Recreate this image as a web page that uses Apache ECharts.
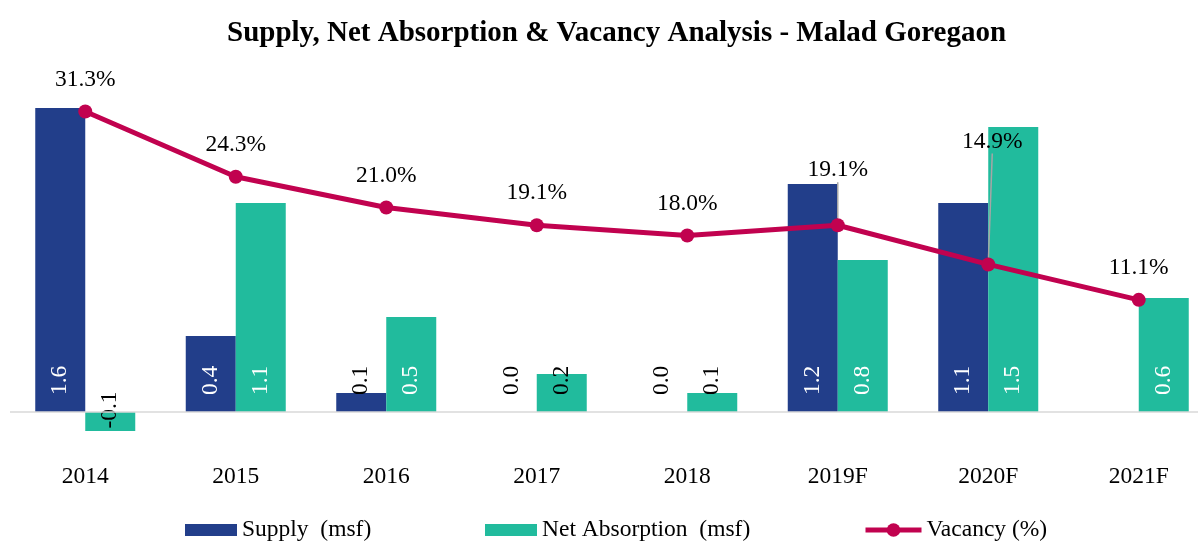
<!DOCTYPE html>
<html>
<head>
<meta charset="utf-8">
<script src="https://cdn.jsdelivr.net/npm/echarts@6/dist/echarts.min.js"></script>
<style>
  html, body { margin: 0; padding: 0; background: #ffffff; }
  #chart { width: 1198px; height: 542px; }
</style>
</head>
<body>
<div id="chart"></div>
<script>
// Yearly figures for the Malad Goregaon micro-market
const categories = ['2014', '2015', '2016', '2017', '2018', '2019F', '2020F', '2021F'];
const supply = [1.6, 0.4, 0.1, 0.0, 0.0, 1.2, 1.1, null];          // msf
const netAbsorption = [-0.1, 1.1, 0.5, 0.2, 0.1, 0.8, 1.5, 0.6];    // msf
const vacancy = [31.3, 24.3, 21.0, 19.1, 18.0, 19.1, 14.9, 11.1];   // %

const SERIF = "'Liberation Serif', 'Times New Roman', serif";
const NAVY = '#223e8a';
const TEAL = '#21bb9d';
const CRIMSON = '#c1024f';
const FONT_SIZE = 23.5;

const chart = echarts.init(document.getElementById('chart'));

// Value labels sit inside the bar, rotated to read bottom-to-top
const barLabel = {
  show: true,
  position: 'insideBottom',
  distance: 17,
  rotate: 90,
  align: 'left',
  verticalAlign: 'middle',
  overflow: 'none',
  color: '#ffffff',
  fontFamily: SERIF,
  fontSize: FONT_SIZE,
  formatter: p => (p.value == null ? '' : Number(p.value).toFixed(1))
};

// Bars too short to hold their label get it in black; the negative one is centred on the baseline
function barItems(values) {
  return values.map(v => {
    if (v == null) return null;
    if (v < 0) {
      return {
        value: v,
        label: { color: '#000000', position: ['50%', -2], align: 'center', verticalAlign: 'middle' }
      };
    }
    if (v < 0.25) return { value: v, label: { color: '#000000' } };
    return v;
  });
}

// Two vacancy labels are lifted clear of the bars and tied back with a leader line
const liftedLabels = { 5: { dx: 0, dy: -23 }, 6: { dx: 4, dy: -91 } };
const vacancyItems = vacancy.map((v, i) =>
  liftedLabels[i] ? { value: v, labelLine: { show: true } } : v
);

const legendText = { fontFamily: SERIF, fontSize: FONT_SIZE, color: '#000000' };

chart.setOption({
  backgroundColor: '#ffffff',
  animation: false,
  title: {
    text: 'Supply, Net Absorption & Vacancy Analysis - Malad Goregaon',
    left: 222,
    top: 14,
    textStyle: { fontFamily: SERIF, fontWeight: 'bold', fontSize: 29, color: '#000000' }
  },
  legend: [
    { data: ['Supply  (msf)'], left: 185, top: 518, padding: 0, icon: 'rect',
      itemWidth: 52, itemHeight: 12, itemGap: 5, textStyle: legendText },
    { data: ['Net Absorption  (msf)'], left: 485, top: 518, padding: 0, icon: 'rect',
      itemWidth: 52, itemHeight: 12, itemGap: 5, textStyle: legendText },
    { data: ['Vacancy (%)'], left: 863, top: 518, padding: 0,
      itemWidth: 56, itemHeight: 17, itemGap: 5, textStyle: legendText,
      lineStyle: { width: 5 } }
  ],
  // The plot runs a little past the right edge of the canvas
  grid: { left: 10, width: 1204, top: 70, height: 380, containLabel: false, outerBoundsMode: 'none' },
  xAxis: {
    type: 'category',
    data: categories,
    axisLine: { show: false, onZero: false },
    axisTick: { show: false },
    splitLine: { show: false },
    axisLabel: { fontFamily: SERIF, fontSize: FONT_SIZE, color: '#000000', margin: 15 }
  },
  yAxis: [
    { type: 'value', min: -0.2, max: 1.8, show: false, splitLine: { show: false } },
    { type: 'value', min: -5, max: 35.75, show: false, splitLine: { show: false } }
  ],
  series: [
    {
      name: 'Supply  (msf)',
      type: 'bar',
      barWidth: 50,
      barGap: '0%',
      itemStyle: { color: NAVY },
      label: barLabel,
      data: barItems(supply),
      z: 2
    },
    {
      name: 'Net Absorption  (msf)',
      type: 'bar',
      barWidth: 50,
      barGap: '0%',
      itemStyle: { color: TEAL },
      label: barLabel,
      data: barItems(netAbsorption),
      z: 2,
      markLine: {
        silent: true,
        symbol: ['none', 'none'],
        label: { show: false },
        lineStyle: { color: '#d9d9d9', width: 1.5, type: 'solid' },
        data: [{ yAxis: 0 }]
      }
    },
    {
      name: 'Vacancy (%)',
      type: 'line',
      yAxisIndex: 1,
      symbol: 'circle',
      symbolSize: 14,
      lineStyle: { color: CRIMSON, width: 5 },
      itemStyle: { color: CRIMSON },
      label: {
        show: true,
        position: 'top',
        distance: 13,
        fontFamily: SERIF,
        fontSize: FONT_SIZE,
        color: '#000000',
        formatter: p => Number(p.value).toFixed(1) + '%'
      },
      labelLine: { show: false, lineStyle: { color: '#a6a6a6', width: 1.5 } },
      labelLayout: p => liftedLabels[p.dataIndex] || {},
      data: vacancyItems,
      z: 5
    }
  ]
});
</script>
</body>
</html>
